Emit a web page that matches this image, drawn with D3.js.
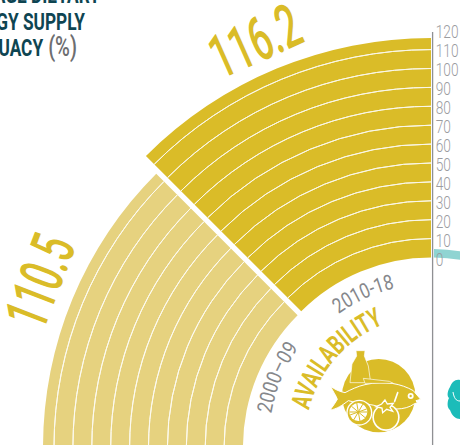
<!DOCTYPE html>
<html><head><meta charset="utf-8">
<style>html,body{margin:0;padding:0;background:#fff;overflow:hidden}svg{display:block}
text{font-family:"Roboto",sans-serif}</style>
<script src="https://cdn.jsdelivr.net/npm/d3@7"></script></head><body>
<svg id="c" width="460" height="445"></svg>
<script>
const periods = ["2000–09", "2010-18"];
const labelValues = ["110.5", "116.2"];
const drawnValues = [105.8, 116.2];
const tealValue = [4.5];
const tickValues = [0,10,20,30,40,50,60,70,80,90,100,110,120];
const titleLines = ["AVERAGE DIETARY","ENERGY SUPPLY","ADEQUACY"];
const colors = {gold:"#dabc28", pale:"#e6d27f", teal:"#8fd4d2", tealDark:"#1cbcb9", navy:"#0e4552", gray:"#85878b", title:"#6d6e70"};

const cx=431,cy=441;
const svg=d3.select("#c");
const deg=d=>d*Math.PI/180;
const r=d3.scaleLinear().domain([0,120]).range([183.5,410.3]);
const arc=d3.arc();

// gold quarter
const g=svg.append("g").attr("transform",`translate(${cx},${cy})`);
const gs=deg(-45);
g.append("path").attr("d",arc({innerRadius:r(0),outerRadius:r(drawnValues[1]),startAngle:gs,endAngle:0})).attr("fill",colors.gold);
g.selectAll(".gl").data(tickValues.filter(v=>v>0&&v<=110)).join("path")
 .attr("d",v=>arc({innerRadius:r(v),outerRadius:r(v),startAngle:gs,endAngle:0}))
 .attr("fill","none").attr("stroke","#fbf8e8").attr("stroke-width",1);

// pale quarter, exploded slightly down-left
const pg=svg.append("g").attr("transform","translate(429.5,447)");
const rp=v=>r(v)+3;
pg.append("path").attr("d",arc({innerRadius:rp(0),outerRadius:rp(drawnValues[0]),startAngle:deg(-135),endAngle:deg(-45)})).attr("fill",colors.pale);
pg.selectAll(".pl").data(tickValues.filter(v=>v>0&&v<=100)).join("path")
 .attr("d",v=>arc({innerRadius:rp(v),outerRadius:rp(v),startAngle:deg(-135),endAngle:deg(-45)}))
 .attr("fill","none").attr("stroke","#fdfbf0").attr("stroke-width",1);

// teal stub of the next quarter
g.append("path").attr("d",arc({innerRadius:r(0),outerRadius:r(tealValue[0]),startAngle:deg(0.9),endAngle:deg(20)})).attr("fill",colors.teal);

// axis
svg.append("line").attr("x1",432.6).attr("x2",432.6).attr("y1",32).attr("y2",445).attr("stroke","#8f9093").attr("stroke-width",1.3);
const yAxis=d3.scaleLinear().domain([0,120]).range([258.5,31]);
svg.selectAll(".tick").data(tickValues).join("text")
 .attr("transform",v=>`translate(435.7,${yAxis(v)+7}) scale(0.74,1)`)
 .attr("font-size",18.5).attr("font-weight",300).attr("fill","#9b9c9f").text(v=>v);

// title (runs off the left edge, as in the source)
[[100,3],[85,29.5],[77,55.5]].forEach(([x,y],i)=>{
 const t=svg.append("text").attr("transform",`translate(${x},${y}) scale(0.72,1)`).attr("text-anchor","end")
  .attr("font-size",24).attr("font-weight",700).attr("fill",colors.navy).text(titleLines[i]);
 if(i==2) t.append("tspan").attr("fill",colors.title).attr("font-weight",500).attr("font-size",28).attr("dx",7).text("(%)");
});

// value labels
const rot=(t,x,y,a,size,fill,sx)=>svg.append("text").attr("transform",`translate(${x},${y}) rotate(${a}) scale(${sx},1)`)
 .attr("text-anchor","middle").attr("dominant-baseline","central").attr("font-size",size).attr("font-weight",500).attr("fill",fill).text(t);
rot(labelValues[1],255,41,-24,61,colors.gold,0.6);
rot(labelValues[0],40,281,-69,61,colors.gold,0.6);

// text on arcs
const defs=svg.append("defs");
function curved(id,t,rad,midDeg,size,weight,fill,len){
 const span=120,p=d3.path();
 p.arc(cx,cy,rad,deg(midDeg-span/2),deg(midDeg+span/2));
 defs.append("path").attr("id",id).attr("d",p.toString());
 svg.append("text").attr("font-size",size).attr("font-weight",weight).attr("fill",fill)
  .append("textPath").attr("href","#"+id).attr("startOffset","50%").attr("text-anchor","middle")
  .attr("textLength",len).attr("lengthAdjust","spacingAndGlyphs").text(t);
}
curved("p1",periods[1],157,245.3,21,400,colors.gray,62);
curved("p0",periods[0],162,202.4,21,400,colors.gray,72);
curved("av","AVAILABILITY",126,221,27,700,colors.gold,118);

// food icon
const ic=svg.append("g").attr("transform","translate(330,340) scale(0.3333)");
const W="#fff",G=colors.gold;
ic.append("circle").attr("cx",146).attr("cy",167).attr("r",110).attr("fill",G);
ic.append("path").attr("d","M78,32 L105,32 L103,48 L115,78 L122,128 L60,128 L66,72 L80,48 Z").attr("fill",G).attr("stroke",W).attr("stroke-width",2);
ic.append("path").attr("d","M272,178 L250,152 C215,132 165,120 105,134 C85,138 60,150 45,158 C30,155 12,148 2,138 C8,155 18,165 22,178 C15,190 8,200 0,210 C20,208 38,195 55,182 C85,190 120,192 140,198 C180,210 225,212 252,192 L262,188 L258,182 Z").attr("fill",G).attr("stroke",W).attr("stroke-width",3);
ic.append("path").attr("d","M100,115 L105,130 L190,130 L178,124 Z").attr("fill",G).attr("stroke",W).attr("stroke-width",2);
ic.append("path").attr("d","M203,158 L194,184").attr("stroke",W).attr("stroke-width",5).attr("stroke-linecap","round");
ic.append("circle").attr("cx",242).attr("cy",168).attr("r",9).attr("fill",W);
ic.append("circle").attr("cx",242).attr("cy",168).attr("r",3.5).attr("fill",G);
// lemon
ic.append("circle").attr("cx",88).attr("cy",218).attr("r",39).attr("fill",W);
ic.append("circle").attr("cx",88).attr("cy",218).attr("r",35).attr("fill",G);
ic.append("circle").attr("cx",85).attr("cy",216).attr("r",27).attr("fill",W);
[0,40,80,120,160].forEach(a=>{const x=27*Math.cos(deg(a)),y=27*Math.sin(deg(a));
 ic.append("path").attr("d",`M${85-x},${216-y} L${85+x},${216+y}`).attr("stroke",G).attr("stroke-width",3);});
// tomato
ic.append("circle").attr("cx",168).attr("cy",232).attr("r",41).attr("fill",W);
ic.append("circle").attr("cx",168).attr("cy",232).attr("r",36).attr("fill",G);
ic.append("path").attr("d","M165,180 L172,192 L190,190 L180,202 L188,214 L170,208 L158,218 L156,204 L138,200 L155,192 Z").attr("fill",G).attr("stroke",W).attr("stroke-width",4);

// teal icon, cut by right edge
const ti=svg.append("g").attr("fill",colors.tealDark);
ti.append("path").attr("d","M460,380 C455,379 452,382 450,387 C447,392 447,396 449,398 C447,402 447,408 450,410 C452,416 456,419 460,419 Z");
ti.append("path").attr("d","M453,392 C454,398 456,401 460,401").attr("fill","none").attr("stroke","#fff").attr("stroke-width",1);
</script></body></html>
